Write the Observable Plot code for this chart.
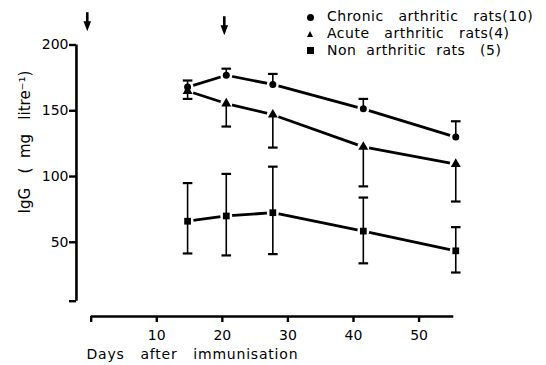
<!DOCTYPE html>
<html><head><meta charset="utf-8">
<script src="https://cdn.jsdelivr.net/npm/d3@7"></script>
<script src="https://cdn.jsdelivr.net/npm/@observablehq/plot@0.6"></script>
<style>
body{margin:0;background:#fff;}
#wrap{position:relative;width:546px;height:365px;font-family:"DejaVu Sans",sans-serif;color:#000;}
#wrap svg text{white-space:pre;}
#wrap svg .lbl text{letter-spacing:0.8px;}
.leg{position:absolute;font-size:14px;white-space:pre;line-height:16px;letter-spacing:0.5px;}
.sym{position:absolute;background:#000;}
</style></head><body><div id="wrap"></div>
<script>
// ---- data ----
const days = [14.7, 20.6, 27.7, 41.5, 55.6];
const chronic = [168, 177, 170, 151.5, 130];
const chronicUpper = [173, 182, 178, 159, 142];
const acute = [165, 155.5, 147, 122.5, 109.5];
const acuteLower = [159, 138, 122, 92.5, 81];
const nonArthritic = [66, 70, 72.5, 58.5, 43.5];
const nonUpper = [95, 102, 107.5, 84, 61.5];
const nonLower = [41.5, 40, 41, 34, 27];
const xTicks = [0, 10, 20, 30, 40, 50];
const yTicks = [50, 100, 150, 200];
const arrowDays = [-0.6, 20.3];
const arrowLevel = [218, 215];
const seriesNames = ["Chronic   arthritic   rats(10)", "Acute   arthritic   rats(4)", "Non  arthritic  rats   (5)"];
const xLabel = "Days   after   immunisation";
const yLabel = "IgG   (  mg   litre\u207B\u00B9)";

// ---- derived tables ----
const symbols = ["circle", "triangle", "square"];
const values = [chronic, acute, nonArthritic];
const points = values.flatMap((v, s) => v.map((y, i) => ({day: days[i], y, s})));
const bars = [
  ...days.map((d, i) => ({day: d, y1: i === 0 ? acuteLower[0] : chronic[i], y2: chronicUpper[i]})),
  ...days.slice(1).map((d, j) => ({day: d, y1: acuteLower[j + 1], y2: acute[j + 1]})),
  ...days.map((d, i) => ({day: d, y1: nonLower[i], y2: nonUpper[i]}))
];
const caps = [
  ...days.map((d, i) => ({day: d, y: chronicUpper[i]})),
  ...days.map((d, i) => ({day: d, y: acuteLower[i]})),
  ...days.map((d, i) => ({day: d, y: nonUpper[i]})),
  ...days.map((d, i) => ({day: d, y: nonLower[i]}))
];
const arrows = arrowDays.map((d, i) => ({day: d, y: arrowLevel[i]}));

const capSymbol = {draw(ctx) { ctx.moveTo(-4.8, 0); ctx.lineTo(4.8, 0); }};
const arrowSymbol = {draw(ctx) {
  ctx.moveTo(-1.3, -9); ctx.lineTo(1.3, -9); ctx.lineTo(1.3, 0); ctx.lineTo(3.8, 0);
  ctx.lineTo(0, 10); ctx.lineTo(-3.8, 0); ctx.lineTo(-1.3, 0); ctx.closePath();
}};

const xDomain = [0, 55.3];
const yDomain = [5.2, 200];
const yAxisDay = -2.25;
const xAxisLevel = -6.45;

const chart = Plot.plot({
  width: 546, height: 365,
  marginLeft: 76, marginBottom: 49, marginTop: 20, marginRight: 93,
  style: {fontFamily: "DejaVu Sans, sans-serif", fontSize: "14px", background: "white", color: "black"},
  x: {domain: xDomain, range: [90.7, 453.3]},
  y: {domain: yDomain, range: [300.7, 44.5]},
  marks: [
    // axes
    Plot.ruleX([yAxisDay], {y1: yDomain[0], y2: yDomain[1], strokeWidth: 2.6}),
    Plot.ruleY([xAxisLevel], {x1: xDomain[0], x2: xDomain[1], strokeWidth: 2.6}),
    Plot.axisY({ticks: [yDomain[0], ...yTicks], tickFormat: d => yTicks.includes(d) ? String(d) : "", tickSize: 7, tickPadding: 1, strokeWidth: 2.4, label: null, fontSize: 14}),
    Plot.axisX({ticks: xTicks, tickFormat: d => d === 0 ? "" : String(d), tickSize: 6, tickPadding: 8, strokeWidth: 2.4, label: null, fontSize: 14}),
    Plot.text([xLabel], {frameAnchor: "bottom-left", textAnchor: "start", dx: 10, dy: 42, fontSize: 14, className: "lbl"}),
    Plot.text([yLabel], {frameAnchor: "left", textAnchor: "middle", rotate: -90, dx: -51, dy: -26.5, fontSize: 15}),
    // arrows
    Plot.dot(arrows, {x: "day", y: "y", symbol: arrowSymbol, fill: "black", stroke: "none"}),
    // series lines
    ...values.map(v => Plot.line(days.map((d, i) => ({day: d, y: v[i]})), {x: "day", y: "y", stroke: "black", strokeWidth: 2.8})),
    // white halos around markers
    Plot.dot(points, {x: "day", y: "y", r: 6, fill: "white", stroke: "none"}),
    // error bars
    Plot.ruleX(bars, {x: "day", y1: "y1", y2: "y2", strokeWidth: 1.6}),
    Plot.dot(caps, {x: "day", y: "y", symbol: capSymbol, stroke: "black", strokeWidth: 2.2, fill: "none"}),
    // markers
    ...symbols.map((sym, s) => Plot.dot(points.filter(p => p.s === s), {x: "day", y: "y", symbol: sym, fill: "black", stroke: "none", r: sym === "circle" ? 3.5 : sym === "triangle" ? 3.7 : 3.8}))
  ]
});
const wrap = document.getElementById("wrap");
wrap.appendChild(chart);

// legend
const legTops = [17.3, 34, 50.7];
seriesNames.forEach((name, i) => {
  const sym = document.createElement("div");
  sym.className = "sym";
  const cy = legTops[i], cx = 310.7;
  if (i === 0) { Object.assign(sym.style, {left: (cx - 3.5) + "px", top: (cy - 3.5) + "px", width: "7px", height: "7px", borderRadius: "50%"}); }
  else if (i === 1) { Object.assign(sym.style, {left: (cx - 3.5) + "px", top: (cy - 3.5) + "px", width: "0", height: "0", background: "none", borderLeft: "3.5px solid transparent", borderRight: "3.5px solid transparent", borderBottom: "6.5px solid #000"}); }
  else { Object.assign(sym.style, {left: (cx - 3.3) + "px", top: (cy - 3.3) + "px", width: "6.6px", height: "6.6px"}); }
  wrap.appendChild(sym);
  const t = document.createElement("div");
  t.className = "leg";
  t.textContent = name;
  t.style.left = "327px";
  t.style.top = (cy - 9) + "px";
  wrap.appendChild(t);
});
</script></body></html>
